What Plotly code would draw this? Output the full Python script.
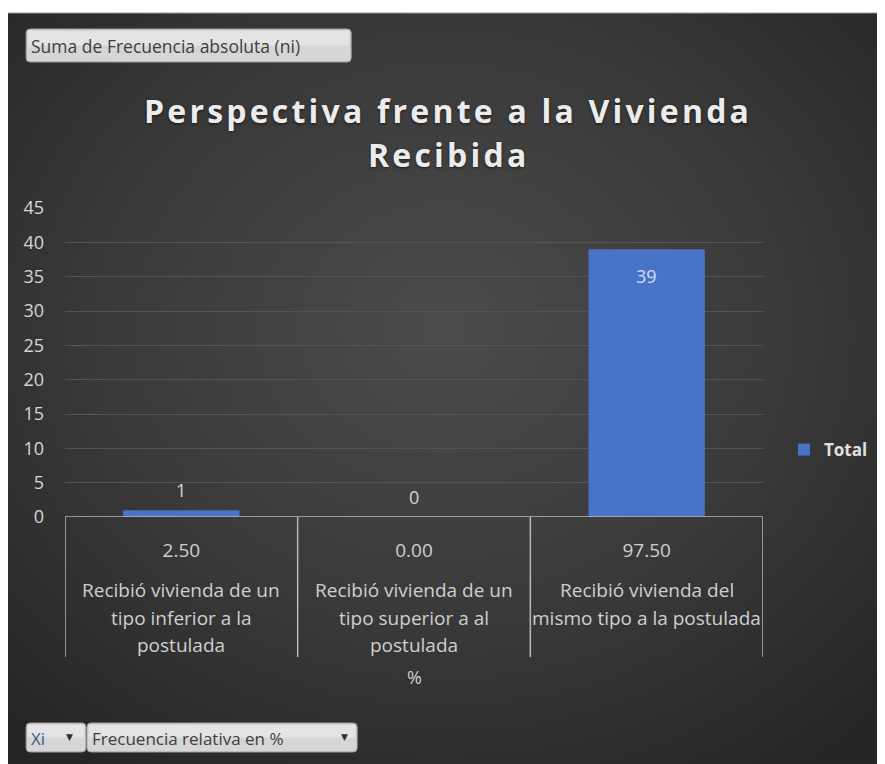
import base64
import plotly.graph_objects as go

# ---------------- data ----------------
categories = [
    "Recibió vivienda de un tipo inferior a la postulada",
    "Recibió vivienda de un tipo superior a al postulada",
    "Recibió vivienda del mismo tipo a la postulada",
]
category_lines = [
    ["Recibió vivienda de un", "tipo inferior a la", "postulada"],
    ["Recibió vivienda de un", "tipo superior a al", "postulada"],
    ["Recibió vivienda del", "mismo tipo a la postulada"],
]
pct_labels = ["2.50", "0.00", "97.50"]
values = [1, 0, 39]
y_ticks = [0, 5, 10, 15, 20, 25, 30, 35, 40, 45]
series_name = "Total"
title_lines = ["Perspectiva frente a la Vivienda", "Recibida"]
axis_title = "%"
btn_values = "Suma de Frecuencia absoluta (ni)"
btn_cat1 = "Xi"
btn_cat2 = "Frecuencia relativa en %"

# ---------------- geometry (screenshot pixels; page body adds 8px offset) ----------------
OFF = 8
SW, SH = 885, 764
W, H = SW - OFF, SH - OFF
L, R, T, B = 65, 765, 208, 517   # plot area in screenshot pixels


def X(px):
    return (px - L) / (R - L)


def Y(py):
    return (B - py) / (B - T)


def rrect(x0, y0, x1, y1, r=4):
    rx = r / (R - L)
    ry = r / (B - T)
    a0, a1, b0, b1 = X(x0), X(x1), Y(y0), Y(y1)
    return (f"M{a0+rx},{b0} L{a1-rx},{b0} Q{a1},{b0} {a1},{b0-ry} "
            f"L{a1},{b1+ry} Q{a1},{b1} {a1-rx},{b1} L{a0+rx},{b1} "
            f"Q{a0},{b1} {a0},{b1+ry} L{a0},{b0-ry} Q{a0},{b0} {a0+rx},{b0} Z")


BAR = "#4774c8"
TXT = "#d6d6d6"
FONT = "'Open Sans', sans-serif"

fig = go.Figure()
fig.add_trace(go.Bar(
    x=categories, y=values, name=series_name,
    marker=dict(color=BAR, line=dict(width=0)),
    hoverinfo="x+y",
))

# background gradient via SVG data uri
svg = ("<svg xmlns='http://www.w3.org/2000/svg' width='876' height='751' "
       "viewBox='0 0 876 751' preserveAspectRatio='none'><defs>"
       "<radialGradient id='g' cx='0.5' cy='0.42' r='0.72'>"
       "<stop offset='0' stop-color='#4b4b4b'/>"
       "<stop offset='0.55' stop-color='#393939'/>"
       "<stop offset='1' stop-color='#252525'/></radialGradient>"
       "<linearGradient id='b' x1='0' y1='0' x2='0' y2='1'>"
       "<stop offset='0' stop-color='#f0f0f0'/><stop offset='1' stop-color='#cdcdcd'/>"
       "</linearGradient></defs>"
       "<rect width='876' height='751' fill='url(#g)'/></svg>")
src = "data:image/svg+xml;base64," + base64.b64encode(svg.encode()).decode()
fig.add_layout_image(dict(
    source=src, xref="paper", yref="paper",
    x=X(7), y=Y(13), sizex=(883 - 7) / (R - L), sizey=(764 - 13) / (B - T),
    xanchor="left", yanchor="top", sizing="stretch", layer="below",
))

shapes = []
shapes.append(dict(type="line", xref="paper", yref="paper",
                   x0=X(7), x1=X(883), y0=Y(13), y1=Y(13),
                   line=dict(color="#9a9a9a", width=1)))
LINE = "#b8b8b8"
shapes.append(dict(type="line", xref="x", yref="y", x0=-0.5, x1=len(categories) - 0.5,
                   y0=0, y1=0, line=dict(color=LINE, width=1.5)))
for i in range(len(categories) + 1):
    shapes.append(dict(type="line", xref="x", yref="paper", x0=i - 0.5, x1=i - 0.5,
                       y0=0, y1=Y(657), line=dict(color=LINE, width=1.5)))

BTN_FILL = "#d6d6d6"
BTN_TOP = "rgba(255,255,255,0.35)"
BTN_LINE = "#9c9c9c"
for (x0, y0, x1, y1) in [(26, 29, 352, 62), (26, 723, 86, 752), (87, 723, 358, 752)]:
    shapes.append(dict(type="path", xref="paper", yref="paper", path=rrect(x0, y0, x1, y1),
                       fillcolor=BTN_FILL, line=dict(color=BTN_LINE, width=1)))
    shapes.append(dict(type="rect", xref="paper", yref="paper",
                       x0=X(x0 + 2), x1=X(x1 - 2), y0=Y(y0 + 2), y1=Y((y0 + y1) / 2),
                       fillcolor=BTN_TOP, line=dict(width=0)))

annotations = []
BTXT = "#3e3e3e"
annotations.append(dict(xref="paper", yref="paper", x=X(29), y=Y(46), xanchor="left",
                        yanchor="middle", text=btn_values, showarrow=False,
                        font=dict(family=FONT, size=17.5, color=BTXT)))
annotations.append(dict(xref="paper", yref="paper", x=X(29), y=Y(738), xanchor="left",
                        yanchor="middle", text=btn_cat1, showarrow=False,
                        font=dict(family=FONT, size=17, color="#3c5a86")))
annotations.append(dict(xref="paper", yref="paper", x=X(90), y=Y(738), xanchor="left",
                        yanchor="middle", text=btn_cat2, showarrow=False,
                        font=dict(family=FONT, size=17, color=BTXT)))
for ax in (70, 345):
    annotations.append(dict(xref="paper", yref="paper", x=X(ax), y=Y(737), xanchor="center",
                            yanchor="middle", text="▼", showarrow=False,
                            font=dict(family="DejaVu Sans", size=9, color="#303030")))

# title (two lines, letter-spaced with hair spaces)
for j, (line, cy) in enumerate(zip(title_lines, [110, 155])):
    spaced = "\u200a".join(line)
    annotations.append(dict(xref="paper", yref="paper", x=X(448), y=Y(cy), xanchor="center",
                            yanchor="middle", text=spaced, showarrow=False,
                            font=dict(family=FONT, size=32, color="#ececec", weight="bold",
                                      shadow="0px 1px 3px rgba(0,0,0,0.6)")))

# data labels
for i, v in enumerate(values):
    inside = v >= 10
    annotations.append(dict(
        xref="x", yref="y", x=i, y=v, text=str(v), showarrow=False,
        yanchor="top" if inside else "bottom", yshift=-13 if inside else 6,
        font=dict(family=FONT, size=18, color="#d4dcf0" if inside else TXT)))

# category name lines
for i, lines in enumerate(category_lines):
    for j, line in enumerate(lines):
        annotations.append(dict(
            xref="x", yref="paper", x=i, y=0, yanchor="middle",
            yshift=-(73 + 27.5 * j), text=line, showarrow=False,
            font=dict(family=FONT, size=19, color="#cfcfcf")))

annotations.append(dict(xref="paper", yref="paper", x=0.5, y=Y(677), yanchor="middle",
                        text=axis_title, showarrow=False,
                        font=dict(family=FONT, size=18, color="#cfcfcf")))

fig.update_layout(
    width=W, height=H,
    margin=dict(l=L - OFF, r=W - (R - OFF), t=T - OFF, b=H - (B - OFF), pad=0),
    paper_bgcolor="white",
    plot_bgcolor="rgba(0,0,0,0)",
    bargap=0.5,
    showlegend=True,
    legend=dict(x=X(786), xanchor="left", y=Y(450), yanchor="middle",
                bgcolor="rgba(0,0,0,0)", itemwidth=30,
                font=dict(family=FONT, size=17, color="#e0e0e0", weight="bold")),
    xaxis=dict(type="category", range=[-0.5, len(categories) - 0.5],
               tickvals=categories, ticktext=pct_labels, showgrid=False,
               zeroline=False, showline=False, ticks="", ticklabelstandoff=20,
               tickfont=dict(family=FONT, size=19, color="#cfcfcf")),
    yaxis=dict(range=[0, 45], tickvals=y_ticks, showgrid=True, gridcolor="#545454",
               gridwidth=1, zeroline=False, showline=False, ticks="", ticklabelstandoff=20,
               tickfont=dict(family=FONT, size=18, color="#d6d6d6")),
    shapes=shapes,
    annotations=annotations,
)

fig.write_html("out.html")
